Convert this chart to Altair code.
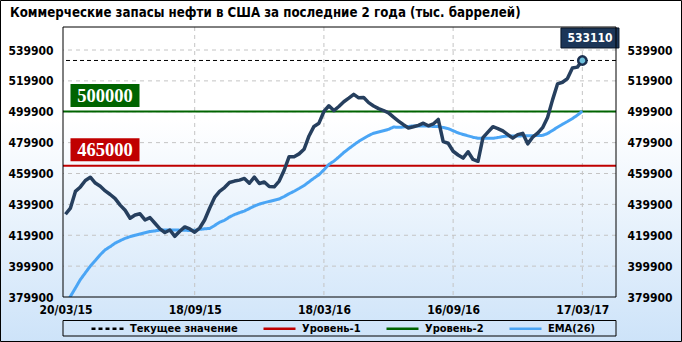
import altair as alt
import pandas as pd

title_text = "Коммерческие запасы нефти в США за последние 2 года (тыс. баррелей)"

close_values = [
    433500, 437500, 448300, 451200, 455400, 457500, 453700, 451600, 448600, 446300,
    443600, 439400, 436100, 430900, 433000, 433800, 429800, 431300, 427700, 424000,
    421700, 423300, 419200, 422500, 425300, 424000, 421900, 424600, 429800, 437400,
    444400, 448300, 450800, 454100, 455000, 455600, 456700, 453600, 457600, 453400,
    454400, 451500, 451300, 455000, 462000, 470800, 470800, 472600, 475600, 484200,
    490400, 492500, 500100, 503800, 500700, 503300, 506400, 508700, 511200, 508900,
    509100, 505800, 503600, 501900, 500700, 499200, 496400, 493900, 491500, 489400,
    490200, 491100, 492500, 490800, 492000, 494900, 480500, 479500, 474300, 471900,
    469900, 474000, 469000, 467800, 483100, 486700, 490200, 489000, 487500, 485100,
    482800, 485100, 485900, 479100, 483400, 486000, 489600, 496200, 507600, 517900,
    519000, 521400, 528200, 528800, 533110,
]

ema_values = [
    374700, 380300, 385700, 391200, 395600, 399900, 403500, 407300, 410500, 412500,
    414800, 416400, 417900, 419000, 419900, 420700, 421500, 422300, 422700, 423300,
    423300, 423300, 423300, 423200, 423100, 423000, 423100, 423700, 424100, 424300,
    426200, 428300, 429600, 431700, 433300, 434500, 435600, 437200, 438800, 440100,
    441000, 441800, 442600, 443400, 445000, 446800, 448400, 450200, 452100, 454500,
    456900, 459100, 462300, 465800, 467900, 470600, 473500, 476000, 478400, 480700,
    482600, 484500, 486000, 486800, 487600, 488500, 490000, 489800, 490000, 490400,
    490700, 490700, 490700, 490600, 490400, 490300, 489700, 489000, 487600, 486200,
    485200, 484300, 483400, 482700, 482700, 482700, 482700, 483200, 483800, 484200,
    484200, 484200, 484300, 484300, 484400, 484500, 484600, 485800, 487800, 489900,
    491800, 493600, 495500, 497700, 500300,
]

start_date = "2015-03-20"
y_ticks = [379900, 399900, 419900, 439900, 459900, 479900, 499900, 519900, 539900]
x_tick_idx = [0, 26, 52, 78, 104]
x_tick_labels = ["20/03/15", "18/09/15", "18/03/16", "16/09/16", "17/03/17"]

level_names = ["Уровень-1", "Уровень-2"]
level_values = [465000, 500000]
level_colors = ["#c00000", "#006400"]

series_names = ["Текущее значение", "Уровень-1", "Уровень-2", "EMA(26)"]
series_colors = ["#000000", "#c00000", "#006400", "#4aa5f5"]
series_dashes = [[4, 3], [1, 0], [1, 0], [1, 0]]

FONT = "DejaVu Sans Condensed, DejaVu Sans"
W, H = 553, 270
X_DOMAIN = [-0.5, 110.77]
Y_DOMAIN = [379900, 554800]

n = len(close_values)
dates = pd.date_range(start_date, periods=n, freq="7D")
df = pd.DataFrame({
    "i": list(range(n)),
    "date": dates.strftime("%d/%m/%y"),
    "close": close_values,
    "ema": ema_values,
    "series": "EMA(26)",
})
last = df.tail(1)
levels = pd.DataFrame({"series": level_names, "value": level_values, "box": level_colors})
current = pd.DataFrame({"series": ["Текущее значение"], "value": [close_values[-1]]})
ygrid = pd.DataFrame({"v": y_ticks[1:]})
xgrid = pd.DataFrame({"i": x_tick_idx[1:]})
one = pd.DataFrame({"k": [0]})

xs = alt.Scale(domain=X_DOMAIN, nice=False, zero=False)
ys = alt.Scale(domain=Y_DOMAIN, nice=False, zero=False)
cs = alt.Scale(domain=series_names, range=series_colors)
ds = alt.Scale(domain=series_names, range=series_dashes)

legend = alt.Legend(
    orient="none", legendX=27, legendY=284, direction="horizontal", title=None,
    symbolType="stroke", symbolSize=1024, symbolStrokeWidth=2.5,
    labelFont=FONT, labelFontSize=11, labelFontWeight="bold", labelColor="black",
    columnPadding=20, labelOffset=5, padding=0, zindex=2,
)

axis_common = dict(labelFont=FONT, labelFontSize=12, labelFontWeight="bold", labelColor="black",
                   ticks=False, domain=False, grid=False, title=None, zindex=2)
label_expr = " : ".join(
    "datum.value == %d ? '%s'" % (v, s) for v, s in zip(x_tick_idx, x_tick_labels)
) + " : ''"
x_axis = alt.Axis(values=x_tick_idx, labelExpr=label_expr, labelPadding=7,
                  labelOverlap=False, labelFlush=False, **axis_common)
y_left = alt.Axis(values=y_ticks, orient="left", labelPadding=10, format="d", **axis_common)
y_right = alt.Axis(values=y_ticks, orient="right", labelPadding=11, format="d", **axis_common)

background = alt.Chart(one).mark_rect(
    color=alt.Gradient(
        gradient="linear",
        stops=[alt.GradientStop(color="#ffffff", offset=0),
               alt.GradientStop(color="#ffffff", offset=0.35),
               alt.GradientStop(color="#cde3f9", offset=1)],
        x1=0, x2=0, y1=0, y2=1,
    )
).encode(x=alt.value(-63), x2=alt.value(619), y=alt.value(-27), y2=alt.value(315))

grid_y = alt.Chart(ygrid).mark_rule(color="#c4c4c4", strokeDash=[4, 4], strokeWidth=1).encode(
    y=alt.Y("v:Q", scale=ys, axis=None))
grid_x = alt.Chart(xgrid).mark_rule(color="#c4c4c4", strokeDash=[4, 4], strokeWidth=1).encode(
    x=alt.X("i:Q", scale=xs, axis=None))

level_rules = alt.Chart(levels).mark_rule(strokeWidth=2).encode(
    y=alt.Y("value:Q", scale=ys, axis=None),
    color=alt.Color("series:N", scale=cs, legend=legend),
    strokeDash=alt.StrokeDash("series:N", scale=ds, legend=legend),
)
current_rule = alt.Chart(current).mark_rule(strokeWidth=1).encode(
    y=alt.Y("value:Q", scale=ys, axis=None),
    color=alt.Color("series:N", scale=cs, legend=legend),
    strokeDash=alt.StrokeDash("series:N", scale=ds, legend=legend),
)

ema_line = alt.Chart(df).mark_line(strokeWidth=3, clip=True).encode(
    x=alt.X("i:Q", scale=xs, axis=None),
    y=alt.Y("ema:Q", scale=ys, axis=y_right),
    color=alt.Color("series:N", scale=cs, legend=legend),
    strokeDash=alt.StrokeDash("series:N", scale=ds, legend=legend),
)

main_line = alt.Chart(df).mark_line(strokeWidth=3.5, color="#263f5e", strokeJoin="round").encode(
    x=alt.X("i:Q", scale=xs, axis=x_axis),
    y=alt.Y("close:Q", scale=ys, axis=y_left),
)

marker = alt.Chart(last).mark_point(shape="circle", filled=True, size=70, fill="#6ec0dc",
                                    stroke="#1b2f4f", strokeWidth=2.5, opacity=1).encode(
    x=alt.X("i:Q", scale=xs, axis=None),
    y=alt.Y("close:Q", scale=ys, axis=None),
)

level_boxes = alt.Chart(levels).mark_rect(yOffset=-27.5, y2Offset=-4.5).encode(
    x=alt.value(7.5), x2=alt.value(76.5),
    y=alt.Y("value:Q", scale=ys, axis=None), y2="value:Q",
    fill=alt.Fill("box:N", scale=None),
)
level_texts = alt.Chart(levels).mark_text(
    font="Liberation Serif", fontSize=18.5, fontWeight="bold", color="white",
    align="center", baseline="middle", dy=-16,
).encode(
    x=alt.value(42),
    y=alt.Y("value:Q", scale=ys, axis=None),
    text=alt.Text("value:Q", format="d"),
)

value_box = alt.Chart(last).mark_rect(
    xOffset=-21.4, x2Offset=36.6, yOffset=-32.5, y2Offset=-12.5,
    fill="#1c3658", stroke="#0a1626", strokeWidth=1,
).encode(
    x=alt.X("i:Q", scale=xs, axis=None), x2="i:Q",
    y=alt.Y("close:Q", scale=ys, axis=None), y2="close:Q",
)
value_text = alt.Chart(last).mark_text(
    font=FONT, fontSize=12, fontWeight="bold", color="white",
    align="center", baseline="middle", dx=7.6, dy=-22.5,
).encode(
    x=alt.X("i:Q", scale=xs, axis=None),
    y=alt.Y("close:Q", scale=ys, axis=None),
    text=alt.Text("close:Q", format="d"),
)

plot_border = alt.Chart(one).mark_rect(fillOpacity=0, stroke="black", strokeWidth=1).encode(
    x=alt.value(0), x2=alt.value(W), y=alt.value(0), y2=alt.value(H))
legend_box = alt.Chart(one).mark_rect(fillOpacity=0, stroke="black", strokeWidth=1).encode(
    x=alt.value(0), x2=alt.value(W), y=alt.value(293.5), y2=alt.value(309))
outer_border = alt.Chart(one).mark_rect(fillOpacity=0, stroke="black", strokeWidth=1).encode(
    x=alt.value(-62.5), x2=alt.value(618.5), y=alt.value(-26.5), y2=alt.value(314.5))

title = alt.Chart(one).mark_text(
    font=FONT, fontSize=13.2, fontWeight="bold", color="black", align="left", baseline="middle",
).encode(x=alt.value(-53), y=alt.value(-14), text=alt.value(title_text))

chart = alt.layer(
    background, grid_x, grid_y, level_rules, current_rule, ema_line, main_line, marker,
    level_boxes, level_texts, value_box, value_text, plot_border, legend_box, outer_border, title,
).resolve_axis(x="independent", y="independent").properties(
    width=W, height=H,
    autosize=alt.AutoSizeParams(type="none"),
    padding={"left": 63, "top": 27, "right": 66, "bottom": 45},
    background="white",
).configure_view(stroke=None)

chart.save("out.html", embed_options={"renderer": "svg", "actions": False})
